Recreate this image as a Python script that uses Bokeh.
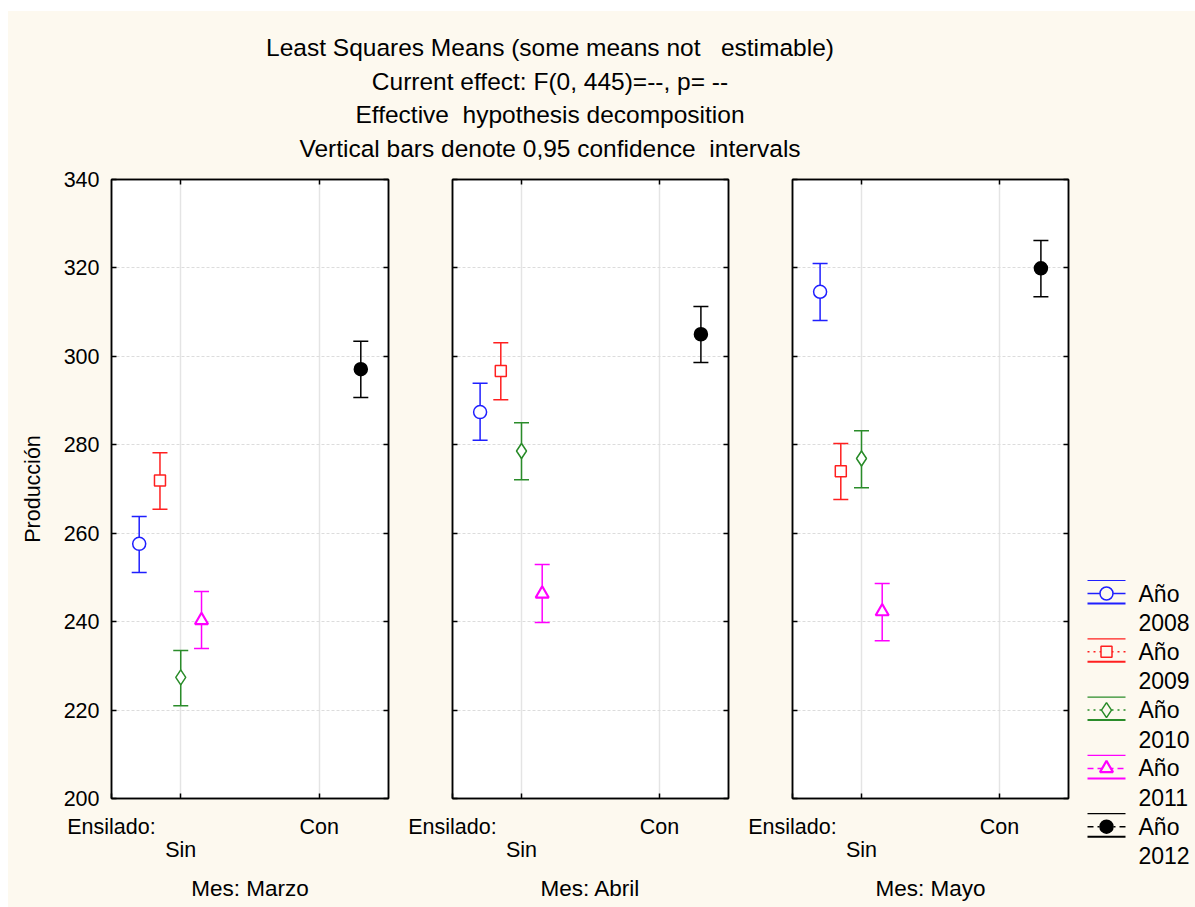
from bokeh.plotting import figure
from bokeh.models import (Range1d, LinearAxis, FixedTicker, Whisker, TeeHead,
                          ColumnDataSource, Div)
from bokeh.layouts import row, column
from bokeh.core.properties import value
from bokeh.embed import file_html
from bokeh.resources import INLINE

# ---------------- data ----------------
months = ["Marzo", "Abril", "Mayo"]
years = ["2008", "2009", "2010", "2011", "2012"]
ensilado = ["Sin", "Sin", "Sin", "Sin", "Con"]
x_categories = ["Sin", "Con"]
y_ticks = [200, 220, 240, 260, 280, 300, 320, 340]

mean_marzo = [257.6, 271.9, 227.4, 240.3, 297.1]
lo_marzo = [251.1, 265.4, 221.0, 233.9, 290.7]
hi_marzo = [263.8, 278.2, 233.5, 246.8, 303.4]

mean_abril = [287.4, 296.7, 278.6, 246.3, 305.0]
lo_abril = [281.0, 290.2, 272.1, 239.8, 298.6]
hi_abril = [293.9, 303.1, 285.0, 252.9, 311.3]

mean_mayo = [314.6, 274.0, 276.9, 242.3, 319.9]
lo_mayo = [308.1, 267.6, 270.3, 235.7, 313.5]
hi_mayo = [321.0, 280.3, 283.2, 248.6, 326.2]

means = [mean_marzo, mean_abril, mean_mayo]
lows = [lo_marzo, lo_abril, lo_mayo]
highs = [hi_marzo, hi_abril, hi_mayo]

# ---------------- style ----------------
colors = ["#1f1fff", "#ff1f1f", "#2a8c2a", "#ff00ff", "#000000"]
markers = ["circle", "square", "diamond", "triangle", "circle"]
sizes = [13, 11, 15, 13, 13]
widths = [1.5, 1.5, 1.5, 2.2, 1.5]
fills = ["white", "white", "white", "white", "#000000"]
dashes = ["solid", "2 4", "2 4", "6 4", "6 4 2 4"]
dodge = [-0.3, -0.15, 0.0, 0.15, 0.3]

CREAM = "#fdf9ef"
FONT = "Liberation Sans"
FS = "21.5px"

frame_h = 619
top_b, bot_b = 20, 109
fig_h = top_b + frame_h + bot_b


def blank_axis(ticks):
    return LinearAxis(ticker=FixedTicker(ticks=ticks), major_tick_in=5, major_tick_out=0,
                      minor_tick_line_color=None,
                      major_label_overrides={t: "" for t in ticks},
                      major_label_text_font_size="1px",
                      major_label_standoff=0, axis_line_width=1.5,
                      major_tick_line_width=1.5)


def panel(mi, first):
    left_b = 103 if first else 54
    frame_w = 277 if first else 276
    right_b = 10
    p = figure(width=left_b + frame_w + right_b, height=fig_h,
               x_range=Range1d(0.5, 2.5), y_range=Range1d(200, 340),
               output_backend="svg", toolbar_location=None,
               x_axis_location=None, y_axis_location=None,
               min_border_left=left_b, min_border_right=right_b,
               min_border_top=top_b, min_border_bottom=bot_b,
               background_fill_color="white", border_fill_color=CREAM,
               outline_line_color="black", outline_line_width=1.5)
    xt = FixedTicker(ticks=[1, 2])
    yt = FixedTicker(ticks=y_ticks)

    # bottom axis A ("Ensilado:" at the frame's left edge, ticks, "Con")
    ax = LinearAxis(ticker=FixedTicker(ticks=[0.5, 1, 2]),
                    major_label_overrides={0.5: "Ensilado:", 1: "", 2: x_categories[1]},
                    major_tick_in=5, major_tick_out=0, minor_tick_line_color=None,
                    axis_line_color="black", axis_line_width=1.5,
                    major_tick_line_width=1.5, major_label_standoff=16,
                    major_label_text_font=FONT, major_label_text_font_size=FS,
                    major_label_text_color="black")
    p.add_layout(ax, "below")

    # bottom axis B ("Sin" + month label)
    bx = LinearAxis(ticker=FixedTicker(ticks=[1]),
                    major_label_overrides={1: x_categories[0]},
                    axis_line_color=None, major_tick_line_color=None,
                    minor_tick_line_color=None, major_tick_out=0, major_tick_in=0,
                    major_label_standoff=-4,
                    major_label_text_font=FONT, major_label_text_font_size=FS,
                    major_label_text_color="black",
                    axis_label="Mes: " + months[mi], axis_label_standoff=11,
                    axis_label_text_font=FONT, axis_label_text_font_size="22.5px",
                    axis_label_text_font_style="normal",
                    axis_label_text_color="black")
    p.add_layout(bx, "below")

    # left axis
    if first:
        ly = LinearAxis(ticker=yt, major_tick_in=5, major_tick_out=0,
                        minor_tick_line_color=None, axis_line_width=1.5,
                        major_tick_line_width=1.5, major_label_standoff=12,
                        major_label_text_font=FONT, major_label_text_font_size=FS,
                        major_label_text_color="black",
                        axis_label="Producción", axis_label_standoff=16,
                        axis_label_text_font=FONT, axis_label_text_font_size=FS,
                        axis_label_text_font_style="normal",
                        axis_label_text_color="black")
    else:
        ly = blank_axis(y_ticks)
    p.add_layout(ly, "left")

    # top & right axes (inner ticks only)
    p.add_layout(blank_axis([1, 2]), "above")
    p.add_layout(blank_axis(y_ticks), "right")

    p.xgrid.ticker = xt
    p.ygrid.ticker = yt
    p.xgrid.grid_line_color = "#e4e4e4"
    p.xgrid.grid_line_width = 1.5
    p.ygrid.grid_line_color = "#dcdcdc"
    p.ygrid.grid_line_dash = "3 2"

    xs = [(1 if e == "Sin" else 2) + d for e, d in zip(ensilado, dodge)]
    for i in range(len(years)):
        src = ColumnDataSource(dict(x=[xs[i]], lo=[lows[mi][i]], hi=[highs[mi][i]]))
        w = Whisker(base="x", lower="lo", upper="hi", source=src,
                    line_color=colors[i], line_width=1.5,
                    upper_head=TeeHead(size=15, line_color=colors[i], line_width=1.5),
                    lower_head=TeeHead(size=15, line_color=colors[i], line_width=1.5))
        p.add_layout(w)

    src = ColumnDataSource(dict(x=xs, y=means[mi], marker=markers, size=sizes,
                                color=colors, fill=fills, lw=widths))
    p.scatter("x", "y", source=src, marker="marker", size="size",
              line_color="color", fill_color="fill", line_width="lw")
    return p


panels = [panel(i, i == 0) for i in range(3)]
for p in panels:
    if not p.xgrid:
        pass

# ---------------- legend ----------------
lg = figure(width=117, height=fig_h, x_range=Range1d(0, 117), y_range=Range1d(fig_h, 0),
            output_backend="svg", toolbar_location=None, min_border=0,
            x_axis_location=None, y_axis_location=None,
            background_fill_color=CREAM, border_fill_color=CREAM,
            outline_line_color=None)
lg.grid.visible = False
for i, yr in enumerate(years):
    yc = 434 + 58.3 * i
    lg.segment(x0=[9], y0=[yc - 13], x1=[47], y1=[yc - 13], line_color=colors[i], line_width=1.2)
    lg.segment(x0=[9], y0=[yc + 10], x1=[47], y1=[yc + 10], line_color=colors[i], line_width=2)
    lg.segment(x0=[9], y0=[yc], x1=[47], y1=[yc], line_color=colors[i], line_width=1.5,
               line_dash=dashes[i])
    lg.scatter(x=[28], y=[yc], marker=markers[i], size=sizes[i], line_color=colors[i],
               fill_color=(CREAM if fills[i] == "white" else fills[i]), line_width=widths[i])
    lg.text(x=[60], y=[yc], text=["Año"], text_baseline="middle", text_align="left",
            text_font=value(FONT), text_font_size=value("23px"), text_color="black")
    lg.text(x=[60], y=[yc + 29], text=[yr], text_baseline="middle", text_align="left",
            text_font=value(FONT), text_font_size=value("23px"), text_color="black")

title_lines = ["Least Squares Means (some means not&nbsp;&nbsp; estimable)",
               "Current effect: F(0, 445)=--, p= --",
               "Effective&nbsp; hypothesis decomposition",
               "Vertical bars denote 0,95 confidence&nbsp; intervals"]
title = Div(text=("<div style='width:1084px;text-align:center;padding-top:20px;"
                  "font-family:\"Liberation Sans\",Arial,sans-serif;font-size:24.5px;"
                  "line-height:33.7px;color:black;'>" + "<br>".join(title_lines) + "</div>"),
            width=1187, height=148, styles={"background-color": CREAM, "margin": "0"})

layout = column(title, row(*panels, column(lg)), margin=(11, 0, 0, 8),
                styles={"background-color": CREAM})

open("out.html", "w").write(file_html(layout, INLINE))
